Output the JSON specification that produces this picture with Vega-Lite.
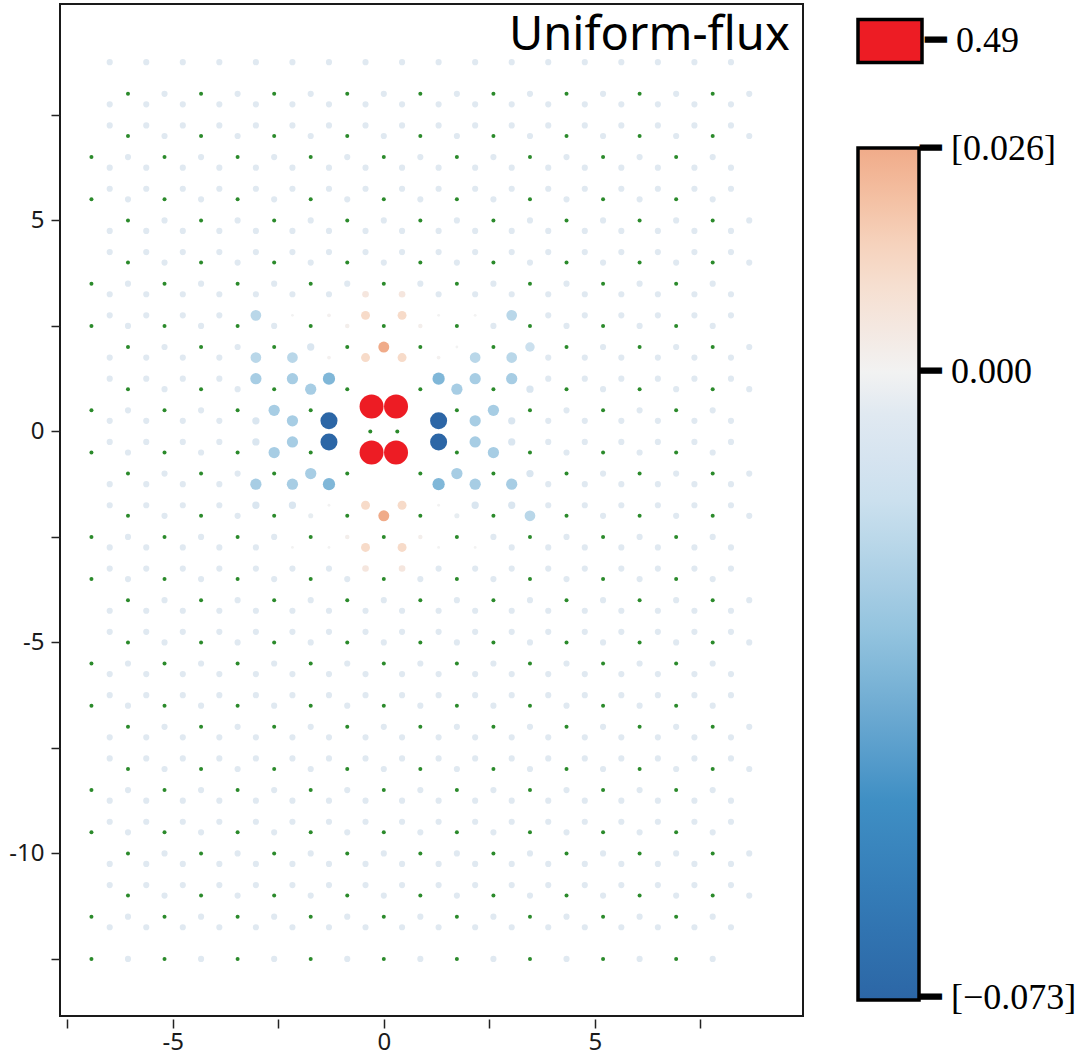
{
"$schema": "https://vega.github.io/schema/vega-lite/v6.json",
"width": 743, "height": 1012,
"autosize": {"type": "none"},
"padding": {"left": 60, "top": 4, "right": 287, "bottom": 44},
"background": "white",
"config": {"view": {"stroke": "#1a1a1a", "strokeWidth": 2},
 "axis": {"grid": false, "domain": false, "tickColor": "#222", "tickWidth": 1.5, "tickSize": 9, "labelFont": "Noto Sans", "labelFontSize": 24, "labelColor": "#1a1a1a", "title": null},
 "legend": {"padding": 0}},
"datasets": {
"s": [
{"x":-6.062,"y":8},{"x":-6.062,"y":7},{"x":-6.062,"y":5},{"x":-6.062,"y":4},{"x":-6.062,"y":2},{"x":-6.062,"y":1},{"x":-6.062,"y":-1},{"x":-6.062,"y":-2},{"x":-6.062,"y":-4},{"x":-6.062,"y":-5},{"x":-6.062,"y":-7},{"x":-6.062,"y":-8},{"x":-6.062,"y":-10},{"x":-6.062,"y":-11},
{"x":-4.33,"y":8},{"x":-4.33,"y":7},{"x":-4.33,"y":5},{"x":-4.33,"y":4},{"x":-4.33,"y":2},{"x":-4.33,"y":1},{"x":-4.33,"y":-1},{"x":-4.33,"y":-2},{"x":-4.33,"y":-4},{"x":-4.33,"y":-5},{"x":-4.33,"y":-7},{"x":-4.33,"y":-8},{"x":-4.33,"y":-10},{"x":-4.33,"y":-11},
{"x":-2.598,"y":8},{"x":-2.598,"y":7},{"x":-2.598,"y":5},{"x":-2.598,"y":4},{"x":-2.598,"y":2},{"x":-2.598,"y":1},{"x":-2.598,"y":-1},{"x":-2.598,"y":-2},{"x":-2.598,"y":-4},{"x":-2.598,"y":-5},{"x":-2.598,"y":-7},{"x":-2.598,"y":-8},{"x":-2.598,"y":-10},{"x":-2.598,"y":-11},
{"x":-0.866,"y":8},{"x":-0.866,"y":7},{"x":-0.866,"y":5},{"x":-0.866,"y":4},{"x":-0.866,"y":2},{"x":-0.866,"y":1},{"x":-0.866,"y":-1},{"x":-0.866,"y":-2},{"x":-0.866,"y":-4},{"x":-0.866,"y":-5},{"x":-0.866,"y":-7},{"x":-0.866,"y":-8},{"x":-0.866,"y":-10},{"x":-0.866,"y":-11},
{"x":0.866,"y":8},{"x":0.866,"y":7},{"x":0.866,"y":5},{"x":0.866,"y":4},{"x":0.866,"y":2},{"x":0.866,"y":1},{"x":0.866,"y":-1},{"x":0.866,"y":-2},{"x":0.866,"y":-4},{"x":0.866,"y":-5},{"x":0.866,"y":-7},{"x":0.866,"y":-8},{"x":0.866,"y":-10},{"x":0.866,"y":-11},
{"x":2.598,"y":8},{"x":2.598,"y":7},{"x":2.598,"y":5},{"x":2.598,"y":4},{"x":2.598,"y":2},{"x":2.598,"y":1},{"x":2.598,"y":-1},{"x":2.598,"y":-2},{"x":2.598,"y":-4},{"x":2.598,"y":-5},{"x":2.598,"y":-7},{"x":2.598,"y":-8},{"x":2.598,"y":-10},{"x":2.598,"y":-11},
{"x":4.33,"y":8},{"x":4.33,"y":7},{"x":4.33,"y":5},{"x":4.33,"y":4},{"x":4.33,"y":2},{"x":4.33,"y":1},{"x":4.33,"y":-1},{"x":4.33,"y":-2},{"x":4.33,"y":-4},{"x":4.33,"y":-5},{"x":4.33,"y":-7},{"x":4.33,"y":-8},{"x":4.33,"y":-10},{"x":4.33,"y":-11},
{"x":6.062,"y":8},{"x":6.062,"y":7},{"x":6.062,"y":5},{"x":6.062,"y":4},{"x":6.062,"y":2},{"x":6.062,"y":1},{"x":6.062,"y":-1},{"x":6.062,"y":-2},{"x":6.062,"y":-4},{"x":6.062,"y":-5},{"x":6.062,"y":-7},{"x":6.062,"y":-8},{"x":6.062,"y":-10},{"x":6.062,"y":-11},
{"x":7.794,"y":8},{"x":7.794,"y":7},{"x":7.794,"y":5},{"x":7.794,"y":4},{"x":7.794,"y":2},{"x":7.794,"y":1},{"x":7.794,"y":-1},{"x":7.794,"y":-2},{"x":7.794,"y":-4},{"x":7.794,"y":-5},{"x":7.794,"y":-7},{"x":7.794,"y":-8},{"x":7.794,"y":-10},{"x":7.794,"y":-11},
{"x":-6.928,"y":6.5},{"x":-6.928,"y":5.5},{"x":-6.928,"y":3.5},{"x":-6.928,"y":2.5},{"x":-6.928,"y":0.5},{"x":-6.928,"y":-0.5},{"x":-6.928,"y":-2.5},{"x":-6.928,"y":-3.5},{"x":-6.928,"y":-5.5},{"x":-6.928,"y":-6.5},{"x":-6.928,"y":-8.5},{"x":-6.928,"y":-9.5},{"x":-6.928,"y":-11.5},{"x":-6.928,"y":-12.5},
{"x":-5.196,"y":6.5},{"x":-5.196,"y":5.5},{"x":-5.196,"y":3.5},{"x":-5.196,"y":2.5},{"x":-5.196,"y":0.5},{"x":-5.196,"y":-0.5},{"x":-5.196,"y":-2.5},{"x":-5.196,"y":-3.5},{"x":-5.196,"y":-5.5},{"x":-5.196,"y":-6.5},{"x":-5.196,"y":-8.5},{"x":-5.196,"y":-9.5},{"x":-5.196,"y":-11.5},{"x":-5.196,"y":-12.5},
{"x":-3.464,"y":6.5},{"x":-3.464,"y":5.5},{"x":-3.464,"y":3.5},{"x":-3.464,"y":2.5},{"x":-3.464,"y":0.5},{"x":-3.464,"y":-0.5},{"x":-3.464,"y":-2.5},{"x":-3.464,"y":-3.5},{"x":-3.464,"y":-5.5},{"x":-3.464,"y":-6.5},{"x":-3.464,"y":-8.5},{"x":-3.464,"y":-9.5},{"x":-3.464,"y":-11.5},{"x":-3.464,"y":-12.5},
{"x":-1.732,"y":6.5},{"x":-1.732,"y":5.5},{"x":-1.732,"y":3.5},{"x":-1.732,"y":2.5},{"x":-1.732,"y":0.5},{"x":-1.732,"y":-0.5},{"x":-1.732,"y":-2.5},{"x":-1.732,"y":-3.5},{"x":-1.732,"y":-5.5},{"x":-1.732,"y":-6.5},{"x":-1.732,"y":-8.5},{"x":-1.732,"y":-9.5},{"x":-1.732,"y":-11.5},{"x":-1.732,"y":-12.5},
{"x":0,"y":6.5},{"x":0,"y":5.5},{"x":0,"y":3.5},{"x":0,"y":2.5},{"x":-0.32,"y":0},{"x":0.32,"y":0},{"x":0,"y":-2.5},{"x":0,"y":-3.5},{"x":0,"y":-5.5},{"x":0,"y":-6.5},{"x":0,"y":-8.5},{"x":0,"y":-9.5},{"x":0,"y":-11.5},{"x":0,"y":-12.5},
{"x":1.732,"y":6.5},{"x":1.732,"y":5.5},{"x":1.732,"y":3.5},{"x":1.732,"y":2.5},{"x":1.732,"y":0.5},{"x":1.732,"y":-0.5},{"x":1.732,"y":-2.5},{"x":1.732,"y":-3.5},{"x":1.732,"y":-5.5},{"x":1.732,"y":-6.5},{"x":1.732,"y":-8.5},{"x":1.732,"y":-9.5},{"x":1.732,"y":-11.5},{"x":1.732,"y":-12.5},
{"x":3.464,"y":6.5},{"x":3.464,"y":5.5},{"x":3.464,"y":3.5},{"x":3.464,"y":2.5},{"x":3.464,"y":0.5},{"x":3.464,"y":-0.5},{"x":3.464,"y":-2.5},{"x":3.464,"y":-3.5},{"x":3.464,"y":-5.5},{"x":3.464,"y":-6.5},{"x":3.464,"y":-8.5},{"x":3.464,"y":-9.5},{"x":3.464,"y":-11.5},{"x":3.464,"y":-12.5},
{"x":5.196,"y":6.5},{"x":5.196,"y":5.5},{"x":5.196,"y":3.5},{"x":5.196,"y":2.5},{"x":5.196,"y":0.5},{"x":5.196,"y":-0.5},{"x":5.196,"y":-2.5},{"x":5.196,"y":-3.5},{"x":5.196,"y":-5.5},{"x":5.196,"y":-6.5},{"x":5.196,"y":-8.5},{"x":5.196,"y":-9.5},{"x":5.196,"y":-11.5},{"x":5.196,"y":-12.5},
{"x":6.928,"y":6.5},{"x":6.928,"y":5.5},{"x":6.928,"y":3.5},{"x":6.928,"y":2.5},{"x":6.928,"y":0.5},{"x":6.928,"y":-0.5},{"x":6.928,"y":-2.5},{"x":6.928,"y":-3.5},{"x":6.928,"y":-5.5},{"x":6.928,"y":-6.5},{"x":6.928,"y":-8.5},{"x":6.928,"y":-9.5},{"x":6.928,"y":-11.5},{"x":6.928,"y":-12.5}
],
"r": [{"x":-0.29,"y":0.59,"v":0.49},{"x":0.29,"y":0.59,"v":0.49},{"x":-0.29,"y":-0.5,"v":0.49},{"x":0.29,"y":-0.5,"v":0.49}],
"b": [
{"x":-6.495,"y":8.75,"v":-0.005},{"x":-5.629,"y":8.75,"v":-0.005},{"x":-4.763,"y":8.75,"v":-0.005},{"x":-3.897,"y":8.75,"v":-0.005},{"x":-3.031,"y":8.75,"v":-0.005},{"x":-2.165,"y":8.75,"v":-0.005},{"x":-1.299,"y":8.75,"v":-0.005},{"x":-0.433,"y":8.75,"v":-0.005},{"x":0.433,"y":8.75,"v":-0.005},{"x":1.299,"y":8.75,"v":-0.005},{"x":2.165,"y":8.75,"v":-0.005},{"x":3.031,"y":8.75,"v":-0.005},{"x":3.897,"y":8.75,"v":-0.005},{"x":4.763,"y":8.75,"v":-0.005},{"x":5.629,"y":8.75,"v":-0.005},{"x":6.495,"y":8.75,"v":-0.005},{"x":7.361,"y":8.75,"v":-0.005},{"x":8.227,"y":8.75,"v":-0.005},
{"x":-5.196,"y":8,"v":-0.005},{"x":-3.464,"y":8,"v":-0.005},{"x":-1.732,"y":8,"v":-0.005},{"x":0,"y":8,"v":-0.005},{"x":1.732,"y":8,"v":-0.005},{"x":3.464,"y":8,"v":-0.005},{"x":5.196,"y":8,"v":-0.005},{"x":6.928,"y":8,"v":-0.005},{"x":8.66,"y":8,"v":-0.005},
{"x":-6.495,"y":7.75,"v":-0.005},{"x":-5.629,"y":7.75,"v":-0.005},{"x":-4.763,"y":7.75,"v":-0.005},{"x":-3.897,"y":7.75,"v":-0.005},{"x":-3.031,"y":7.75,"v":-0.005},{"x":-2.165,"y":7.75,"v":-0.005},{"x":-1.299,"y":7.75,"v":-0.005},{"x":-0.433,"y":7.75,"v":-0.005},{"x":0.433,"y":7.75,"v":-0.005},{"x":1.299,"y":7.75,"v":-0.005},{"x":2.165,"y":7.75,"v":-0.005},{"x":3.031,"y":7.75,"v":-0.005},{"x":3.897,"y":7.75,"v":-0.005},{"x":4.763,"y":7.75,"v":-0.005},{"x":5.629,"y":7.75,"v":-0.005},{"x":6.495,"y":7.75,"v":-0.005},{"x":7.361,"y":7.75,"v":-0.005},{"x":8.227,"y":7.75,"v":-0.005},
{"x":-6.495,"y":7.25,"v":-0.005},{"x":-5.629,"y":7.25,"v":-0.005},{"x":-4.763,"y":7.25,"v":-0.005},{"x":-3.897,"y":7.25,"v":-0.005},{"x":-3.031,"y":7.25,"v":-0.005},{"x":-2.165,"y":7.25,"v":-0.005},{"x":-1.299,"y":7.25,"v":-0.005},{"x":-0.433,"y":7.25,"v":-0.005},{"x":0.433,"y":7.25,"v":-0.005},{"x":1.299,"y":7.25,"v":-0.005},{"x":2.165,"y":7.25,"v":-0.005},{"x":3.031,"y":7.25,"v":-0.005},{"x":3.897,"y":7.25,"v":-0.005},{"x":4.763,"y":7.25,"v":-0.005},{"x":5.629,"y":7.25,"v":-0.005},{"x":6.495,"y":7.25,"v":-0.005},{"x":7.361,"y":7.25,"v":-0.005},{"x":8.227,"y":7.25,"v":-0.005},
{"x":-5.196,"y":7,"v":-0.005},{"x":-3.464,"y":7,"v":-0.005},{"x":-1.732,"y":7,"v":-0.005},{"x":0,"y":7,"v":-0.005},{"x":1.732,"y":7,"v":-0.005},{"x":3.464,"y":7,"v":-0.005},{"x":5.196,"y":7,"v":-0.005},{"x":6.928,"y":7,"v":-0.005},{"x":8.66,"y":7,"v":-0.005},
{"x":-6.062,"y":6.5,"v":-0.005},{"x":-4.33,"y":6.5,"v":-0.005},{"x":-2.598,"y":6.5,"v":-0.005},{"x":-0.866,"y":6.5,"v":-0.005},{"x":0.866,"y":6.5,"v":-0.005},{"x":2.598,"y":6.5,"v":-0.005},{"x":4.33,"y":6.5,"v":-0.005},{"x":6.062,"y":6.5,"v":-0.005},{"x":7.794,"y":6.5,"v":-0.005},
{"x":-6.495,"y":6.25,"v":-0.005},{"x":-5.629,"y":6.25,"v":-0.005},{"x":-4.763,"y":6.25,"v":-0.005},{"x":-3.897,"y":6.25,"v":-0.005},{"x":-3.031,"y":6.25,"v":-0.005},{"x":-2.165,"y":6.25,"v":-0.005},{"x":-1.299,"y":6.25,"v":-0.005},{"x":-0.433,"y":6.25,"v":-0.005},{"x":0.433,"y":6.25,"v":-0.005},{"x":1.299,"y":6.25,"v":-0.005},{"x":2.165,"y":6.25,"v":-0.005},{"x":3.031,"y":6.25,"v":-0.005},{"x":3.897,"y":6.25,"v":-0.005},{"x":4.763,"y":6.25,"v":-0.005},{"x":5.629,"y":6.25,"v":-0.005},{"x":6.495,"y":6.25,"v":-0.005},{"x":7.361,"y":6.25,"v":-0.005},{"x":8.227,"y":6.25,"v":-0.005},
{"x":-6.495,"y":5.75,"v":-0.005},{"x":-5.629,"y":5.75,"v":-0.005},{"x":-4.763,"y":5.75,"v":-0.005},{"x":-3.897,"y":5.75,"v":-0.005},{"x":-3.031,"y":5.75,"v":-0.005},{"x":-2.165,"y":5.75,"v":-0.005},{"x":-1.299,"y":5.75,"v":-0.005},{"x":-0.433,"y":5.75,"v":-0.005},{"x":0.433,"y":5.75,"v":-0.005},{"x":1.299,"y":5.75,"v":-0.005},{"x":2.165,"y":5.75,"v":-0.005},{"x":3.031,"y":5.75,"v":-0.005},{"x":3.897,"y":5.75,"v":-0.005},{"x":4.763,"y":5.75,"v":-0.005},{"x":5.629,"y":5.75,"v":-0.005},{"x":6.495,"y":5.75,"v":-0.005},{"x":7.361,"y":5.75,"v":-0.005},{"x":8.227,"y":5.75,"v":-0.005},
{"x":-6.062,"y":5.5,"v":-0.005},{"x":-4.33,"y":5.5,"v":-0.005},{"x":-2.598,"y":5.5,"v":-0.005},{"x":-0.866,"y":5.5,"v":-0.005},{"x":0.866,"y":5.5,"v":-0.005},{"x":2.598,"y":5.5,"v":-0.005},{"x":4.33,"y":5.5,"v":-0.005},{"x":6.062,"y":5.5,"v":-0.005},{"x":7.794,"y":5.5,"v":-0.005},
{"x":-5.196,"y":5,"v":-0.005},{"x":-3.464,"y":5,"v":-0.005},{"x":-1.732,"y":5,"v":-0.005},{"x":0,"y":5,"v":-0.005},{"x":1.732,"y":5,"v":-0.005},{"x":3.464,"y":5,"v":-0.005},{"x":5.196,"y":5,"v":-0.005},{"x":6.928,"y":5,"v":-0.005},{"x":8.66,"y":5,"v":-0.005},
{"x":-6.495,"y":4.75,"v":-0.005},{"x":-5.629,"y":4.75,"v":-0.005},{"x":-4.763,"y":4.75,"v":-0.005},{"x":-3.897,"y":4.75,"v":-0.005},{"x":-3.031,"y":4.75,"v":-0.005},{"x":-2.165,"y":4.75,"v":-0.005},{"x":-1.299,"y":4.75,"v":-0.005},{"x":-0.433,"y":4.75,"v":-0.005},{"x":0.433,"y":4.75,"v":-0.005},{"x":1.299,"y":4.75,"v":-0.005},{"x":2.165,"y":4.75,"v":-0.005},{"x":3.031,"y":4.75,"v":-0.005},{"x":3.897,"y":4.75,"v":-0.005},{"x":4.763,"y":4.75,"v":-0.005},{"x":5.629,"y":4.75,"v":-0.005},{"x":6.495,"y":4.75,"v":-0.005},{"x":7.361,"y":4.75,"v":-0.005},{"x":8.227,"y":4.75,"v":-0.005},
{"x":-6.495,"y":4.25,"v":-0.005},{"x":-5.629,"y":4.25,"v":-0.005},{"x":-4.763,"y":4.25,"v":-0.005},{"x":-3.897,"y":4.25,"v":-0.005},{"x":-3.031,"y":4.25,"v":-0.005},{"x":-2.165,"y":4.25,"v":-0.005},{"x":-1.299,"y":4.25,"v":-0.005},{"x":-0.433,"y":4.25,"v":-0.005},{"x":0.433,"y":4.25,"v":-0.005},{"x":1.299,"y":4.25,"v":-0.005},{"x":2.165,"y":4.25,"v":-0.005},{"x":3.031,"y":4.25,"v":-0.005},{"x":3.897,"y":4.25,"v":-0.005},{"x":4.763,"y":4.25,"v":-0.005},{"x":5.629,"y":4.25,"v":-0.005},{"x":6.495,"y":4.25,"v":-0.005},{"x":7.361,"y":4.25,"v":-0.005},{"x":8.227,"y":4.25,"v":-0.005},
{"x":-5.196,"y":4,"v":-0.005},{"x":-3.464,"y":4,"v":-0.005},{"x":-1.732,"y":4,"v":-0.005},{"x":0,"y":4,"v":-0.005},{"x":1.732,"y":4,"v":-0.005},{"x":3.464,"y":4,"v":-0.005},{"x":5.196,"y":4,"v":-0.005},{"x":6.928,"y":4,"v":-0.005},{"x":8.66,"y":4,"v":-0.005},
{"x":-6.062,"y":3.5,"v":-0.005},{"x":-4.33,"y":3.5,"v":-0.005},{"x":-2.598,"y":3.5,"v":-0.005},{"x":-0.866,"y":3.5,"v":-0.005},{"x":0.866,"y":3.5,"v":-0.005},{"x":2.598,"y":3.5,"v":-0.005},{"x":4.33,"y":3.5,"v":-0.005},{"x":6.062,"y":3.5,"v":-0.005},{"x":7.794,"y":3.5,"v":-0.005},
{"x":-6.495,"y":3.25,"v":-0.005},{"x":-5.629,"y":3.25,"v":-0.005},{"x":-4.763,"y":3.25,"v":-0.005},{"x":-3.897,"y":3.25,"v":-0.005},{"x":-3.031,"y":3.25,"v":-0.005},{"x":-2.165,"y":3.25,"v":-0.005},{"x":-1.299,"y":3.25,"v":-0.005},{"x":-0.433,"y":3.25,"v":0.006},{"x":0.433,"y":3.25,"v":0.006},{"x":1.299,"y":3.25,"v":-0.005},{"x":2.165,"y":3.25,"v":-0.005},{"x":3.031,"y":3.25,"v":-0.005},{"x":3.897,"y":3.25,"v":-0.005},{"x":4.763,"y":3.25,"v":-0.005},{"x":5.629,"y":3.25,"v":-0.005},{"x":6.495,"y":3.25,"v":-0.005},{"x":7.361,"y":3.25,"v":-0.005},{"x":8.227,"y":3.25,"v":-0.005},
{"x":-6.495,"y":2.75,"v":-0.005},{"x":-5.629,"y":2.75,"v":-0.005},{"x":-4.763,"y":2.75,"v":-0.005},{"x":-3.897,"y":2.75,"v":-0.005},{"x":-3.031,"y":2.75,"v":-0.02},{"x":-2.165,"y":2.75,"v":0},{"x":-1.299,"y":2.75,"v":0.001},{"x":-0.433,"y":2.75,"v":0.012},{"x":0.433,"y":2.75,"v":0.012},{"x":1.299,"y":2.75,"v":0},{"x":2.165,"y":2.75,"v":0},{"x":3.031,"y":2.75,"v":-0.02},{"x":3.897,"y":2.75,"v":-0.005},{"x":4.763,"y":2.75,"v":-0.005},{"x":5.629,"y":2.75,"v":-0.005},{"x":6.495,"y":2.75,"v":-0.005},{"x":7.361,"y":2.75,"v":-0.005},{"x":8.227,"y":2.75,"v":-0.005},
{"x":-6.062,"y":2.5,"v":-0.005},{"x":-4.33,"y":2.5,"v":-0.005},{"x":-2.598,"y":2.5,"v":-0.005},{"x":-0.866,"y":2.5,"v":0.002},{"x":0.866,"y":2.5,"v":0.002},{"x":2.598,"y":2.5,"v":-0.005},{"x":4.33,"y":2.5,"v":-0.005},{"x":6.062,"y":2.5,"v":-0.005},{"x":7.794,"y":2.5,"v":-0.005},
{"x":-5.196,"y":2,"v":-0.005},{"x":-3.464,"y":2,"v":-0.005},{"x":-1.732,"y":2,"v":-0.008},{"x":0,"y":2,"v":0.026},{"x":1.732,"y":2,"v":0},{"x":3.464,"y":2,"v":-0.015},{"x":5.196,"y":2,"v":-0.005},{"x":6.928,"y":2,"v":-0.005},{"x":8.66,"y":2,"v":-0.005},
{"x":-6.495,"y":1.75,"v":-0.005},{"x":-5.629,"y":1.75,"v":-0.005},{"x":-4.763,"y":1.75,"v":-0.005},{"x":-3.897,"y":1.75,"v":-0.005},{"x":-3.031,"y":1.75,"v":-0.02},{"x":-2.165,"y":1.75,"v":-0.02},{"x":-1.299,"y":1.75,"v":0.001},{"x":-0.433,"y":1.75,"v":0.012},{"x":0.433,"y":1.75,"v":0.012},{"x":1.299,"y":1.75,"v":0.001},{"x":2.165,"y":1.75,"v":-0.02},{"x":3.031,"y":1.75,"v":-0.02},{"x":3.897,"y":1.75,"v":-0.005},{"x":4.763,"y":1.75,"v":-0.005},{"x":5.629,"y":1.75,"v":-0.005},{"x":6.495,"y":1.75,"v":-0.005},{"x":7.361,"y":1.75,"v":-0.005},{"x":8.227,"y":1.75,"v":-0.005},
{"x":-6.495,"y":1.25,"v":-0.005},{"x":-5.629,"y":1.25,"v":-0.005},{"x":-4.763,"y":1.25,"v":-0.005},{"x":-3.897,"y":1.25,"v":-0.005},{"x":-3.031,"y":1.25,"v":-0.025},{"x":-2.165,"y":1.25,"v":-0.025},{"x":-1.299,"y":1.25,"v":-0.035},{"x":1.299,"y":1.25,"v":-0.035},{"x":2.165,"y":1.25,"v":-0.025},{"x":3.031,"y":1.25,"v":-0.025},{"x":3.897,"y":1.25,"v":-0.005},{"x":4.763,"y":1.25,"v":-0.005},{"x":5.629,"y":1.25,"v":-0.005},{"x":6.495,"y":1.25,"v":-0.005},{"x":7.361,"y":1.25,"v":-0.005},{"x":8.227,"y":1.25,"v":-0.005},
{"x":-5.196,"y":1,"v":-0.005},{"x":-3.464,"y":1,"v":-0.005},{"x":-1.732,"y":1,"v":-0.025},{"x":1.732,"y":1,"v":-0.025},{"x":3.464,"y":1,"v":-0.008},{"x":5.196,"y":1,"v":-0.005},{"x":6.928,"y":1,"v":-0.005},{"x":8.66,"y":1,"v":-0.005},
{"x":-6.062,"y":0.5,"v":-0.005},{"x":-4.33,"y":0.5,"v":-0.005},{"x":-2.598,"y":0.5,"v":-0.025},{"x":2.598,"y":0.5,"v":-0.025},{"x":4.33,"y":0.5,"v":-0.005},{"x":6.062,"y":0.5,"v":-0.005},{"x":7.794,"y":0.5,"v":-0.005},
{"x":-6.495,"y":0.25,"v":-0.005},{"x":-5.629,"y":0.25,"v":-0.005},{"x":-4.763,"y":0.25,"v":-0.005},{"x":-3.897,"y":0.25,"v":-0.005},{"x":-3.031,"y":0.25,"v":-0.008},{"x":-2.165,"y":0.25,"v":-0.025},{"x":-1.299,"y":0.25,"v":-0.073},{"x":1.299,"y":0.25,"v":-0.073},{"x":2.165,"y":0.25,"v":-0.025},{"x":3.031,"y":0.25,"v":-0.008},{"x":3.897,"y":0.25,"v":-0.005},{"x":4.763,"y":0.25,"v":-0.005},{"x":5.629,"y":0.25,"v":-0.005},{"x":6.495,"y":0.25,"v":-0.005},{"x":7.361,"y":0.25,"v":-0.005},{"x":8.227,"y":0.25,"v":-0.005},
{"x":-6.495,"y":-0.25,"v":-0.005},{"x":-5.629,"y":-0.25,"v":-0.005},{"x":-4.763,"y":-0.25,"v":-0.005},{"x":-3.897,"y":-0.25,"v":-0.005},{"x":-3.031,"y":-0.25,"v":-0.008},{"x":-2.165,"y":-0.25,"v":-0.025},{"x":-1.299,"y":-0.25,"v":-0.073},{"x":1.299,"y":-0.25,"v":-0.073},{"x":2.165,"y":-0.25,"v":-0.025},{"x":3.031,"y":-0.25,"v":-0.008},{"x":3.897,"y":-0.25,"v":-0.005},{"x":4.763,"y":-0.25,"v":-0.005},{"x":5.629,"y":-0.25,"v":-0.005},{"x":6.495,"y":-0.25,"v":-0.005},{"x":7.361,"y":-0.25,"v":-0.005},{"x":8.227,"y":-0.25,"v":-0.005},
{"x":-6.062,"y":-0.5,"v":-0.005},{"x":-4.33,"y":-0.5,"v":-0.005},{"x":-2.598,"y":-0.5,"v":-0.025},{"x":2.598,"y":-0.5,"v":-0.025},{"x":4.33,"y":-0.5,"v":-0.005},{"x":6.062,"y":-0.5,"v":-0.005},{"x":7.794,"y":-0.5,"v":-0.005},
{"x":-5.196,"y":-1,"v":-0.005},{"x":-3.464,"y":-1,"v":-0.005},{"x":-1.732,"y":-1,"v":-0.025},{"x":1.732,"y":-1,"v":-0.025},{"x":3.464,"y":-1,"v":-0.008},{"x":5.196,"y":-1,"v":-0.005},{"x":6.928,"y":-1,"v":-0.005},{"x":8.66,"y":-1,"v":-0.005},
{"x":-6.495,"y":-1.25,"v":-0.005},{"x":-5.629,"y":-1.25,"v":-0.005},{"x":-4.763,"y":-1.25,"v":-0.005},{"x":-3.897,"y":-1.25,"v":-0.005},{"x":-3.031,"y":-1.25,"v":-0.025},{"x":-2.165,"y":-1.25,"v":-0.025},{"x":-1.299,"y":-1.25,"v":-0.035},{"x":1.299,"y":-1.25,"v":-0.035},{"x":2.165,"y":-1.25,"v":-0.025},{"x":3.031,"y":-1.25,"v":-0.025},{"x":3.897,"y":-1.25,"v":-0.005},{"x":4.763,"y":-1.25,"v":-0.005},{"x":5.629,"y":-1.25,"v":-0.005},{"x":6.495,"y":-1.25,"v":-0.005},{"x":7.361,"y":-1.25,"v":-0.005},{"x":8.227,"y":-1.25,"v":-0.005},
{"x":-6.495,"y":-1.75,"v":-0.005},{"x":-5.629,"y":-1.75,"v":-0.005},{"x":-4.763,"y":-1.75,"v":-0.005},{"x":-3.897,"y":-1.75,"v":-0.005},{"x":-3.031,"y":-1.75,"v":-0.008},{"x":-2.165,"y":-1.75,"v":-0.008},{"x":-1.299,"y":-1.75,"v":0},{"x":-0.433,"y":-1.75,"v":0.012},{"x":0.433,"y":-1.75,"v":0.012},{"x":1.299,"y":-1.75,"v":0},{"x":2.165,"y":-1.75,"v":-0.008},{"x":3.031,"y":-1.75,"v":-0.008},{"x":3.897,"y":-1.75,"v":-0.005},{"x":4.763,"y":-1.75,"v":-0.005},{"x":5.629,"y":-1.75,"v":-0.005},{"x":6.495,"y":-1.75,"v":-0.005},{"x":7.361,"y":-1.75,"v":-0.005},{"x":8.227,"y":-1.75,"v":-0.005},
{"x":-5.196,"y":-2,"v":-0.005},{"x":-3.464,"y":-2,"v":-0.005},{"x":-1.732,"y":-2,"v":-0.003},{"x":0,"y":-2,"v":0.026},{"x":1.732,"y":-2,"v":-0.003},{"x":3.464,"y":-2,"v":-0.02},{"x":5.196,"y":-2,"v":-0.005},{"x":6.928,"y":-2,"v":-0.005},{"x":8.66,"y":-2,"v":-0.005},
{"x":-6.062,"y":-2.5,"v":-0.005},{"x":-4.33,"y":-2.5,"v":-0.005},{"x":-2.598,"y":-2.5,"v":-0.005},{"x":-0.866,"y":-2.5,"v":0.002},{"x":0.866,"y":-2.5,"v":0.002},{"x":2.598,"y":-2.5,"v":-0.005},{"x":4.33,"y":-2.5,"v":-0.005},{"x":6.062,"y":-2.5,"v":-0.005},{"x":7.794,"y":-2.5,"v":-0.005},
{"x":-6.495,"y":-2.75,"v":-0.005},{"x":-5.629,"y":-2.75,"v":-0.005},{"x":-4.763,"y":-2.75,"v":-0.005},{"x":-3.897,"y":-2.75,"v":-0.005},{"x":-3.031,"y":-2.75,"v":-0.005},{"x":-2.165,"y":-2.75,"v":0},{"x":-1.299,"y":-2.75,"v":0},{"x":-0.433,"y":-2.75,"v":0.012},{"x":0.433,"y":-2.75,"v":0.012},{"x":1.299,"y":-2.75,"v":0},{"x":2.165,"y":-2.75,"v":0},{"x":3.031,"y":-2.75,"v":-0.005},{"x":3.897,"y":-2.75,"v":-0.005},{"x":4.763,"y":-2.75,"v":-0.005},{"x":5.629,"y":-2.75,"v":-0.005},{"x":6.495,"y":-2.75,"v":-0.005},{"x":7.361,"y":-2.75,"v":-0.005},{"x":8.227,"y":-2.75,"v":-0.005},
{"x":-6.495,"y":-3.25,"v":-0.005},{"x":-5.629,"y":-3.25,"v":-0.005},{"x":-4.763,"y":-3.25,"v":-0.005},{"x":-3.897,"y":-3.25,"v":-0.005},{"x":-3.031,"y":-3.25,"v":-0.005},{"x":-2.165,"y":-3.25,"v":-0.005},{"x":-1.299,"y":-3.25,"v":-0.005},{"x":-0.433,"y":-3.25,"v":0.006},{"x":0.433,"y":-3.25,"v":0.006},{"x":1.299,"y":-3.25,"v":-0.005},{"x":2.165,"y":-3.25,"v":-0.005},{"x":3.031,"y":-3.25,"v":-0.005},{"x":3.897,"y":-3.25,"v":-0.005},{"x":4.763,"y":-3.25,"v":-0.005},{"x":5.629,"y":-3.25,"v":-0.005},{"x":6.495,"y":-3.25,"v":-0.005},{"x":7.361,"y":-3.25,"v":-0.005},{"x":8.227,"y":-3.25,"v":-0.005},
{"x":-6.062,"y":-3.5,"v":-0.005},{"x":-4.33,"y":-3.5,"v":-0.005},{"x":-2.598,"y":-3.5,"v":-0.005},{"x":-0.866,"y":-3.5,"v":-0.005},{"x":0.866,"y":-3.5,"v":-0.005},{"x":2.598,"y":-3.5,"v":-0.005},{"x":4.33,"y":-3.5,"v":-0.005},{"x":6.062,"y":-3.5,"v":-0.005},{"x":7.794,"y":-3.5,"v":-0.005},
{"x":-5.196,"y":-4,"v":-0.005},{"x":-3.464,"y":-4,"v":-0.005},{"x":-1.732,"y":-4,"v":-0.005},{"x":0,"y":-4,"v":-0.005},{"x":1.732,"y":-4,"v":-0.005},{"x":3.464,"y":-4,"v":-0.005},{"x":5.196,"y":-4,"v":-0.005},{"x":6.928,"y":-4,"v":-0.005},{"x":8.66,"y":-4,"v":-0.005},
{"x":-6.495,"y":-4.25,"v":-0.005},{"x":-5.629,"y":-4.25,"v":-0.005},{"x":-4.763,"y":-4.25,"v":-0.005},{"x":-3.897,"y":-4.25,"v":-0.005},{"x":-3.031,"y":-4.25,"v":-0.005},{"x":-2.165,"y":-4.25,"v":-0.005},{"x":-1.299,"y":-4.25,"v":-0.005},{"x":-0.433,"y":-4.25,"v":-0.005},{"x":0.433,"y":-4.25,"v":-0.005},{"x":1.299,"y":-4.25,"v":-0.005},{"x":2.165,"y":-4.25,"v":-0.005},{"x":3.031,"y":-4.25,"v":-0.005},{"x":3.897,"y":-4.25,"v":-0.005},{"x":4.763,"y":-4.25,"v":-0.005},{"x":5.629,"y":-4.25,"v":-0.005},{"x":6.495,"y":-4.25,"v":-0.005},{"x":7.361,"y":-4.25,"v":-0.005},{"x":8.227,"y":-4.25,"v":-0.005},
{"x":-6.495,"y":-4.75,"v":-0.005},{"x":-5.629,"y":-4.75,"v":-0.005},{"x":-4.763,"y":-4.75,"v":-0.005},{"x":-3.897,"y":-4.75,"v":-0.005},{"x":-3.031,"y":-4.75,"v":-0.005},{"x":-2.165,"y":-4.75,"v":-0.005},{"x":-1.299,"y":-4.75,"v":-0.005},{"x":-0.433,"y":-4.75,"v":-0.005},{"x":0.433,"y":-4.75,"v":-0.005},{"x":1.299,"y":-4.75,"v":-0.005},{"x":2.165,"y":-4.75,"v":-0.005},{"x":3.031,"y":-4.75,"v":-0.005},{"x":3.897,"y":-4.75,"v":-0.005},{"x":4.763,"y":-4.75,"v":-0.005},{"x":5.629,"y":-4.75,"v":-0.005},{"x":6.495,"y":-4.75,"v":-0.005},{"x":7.361,"y":-4.75,"v":-0.005},{"x":8.227,"y":-4.75,"v":-0.005},
{"x":-5.196,"y":-5,"v":-0.005},{"x":-3.464,"y":-5,"v":-0.005},{"x":-1.732,"y":-5,"v":-0.005},{"x":0,"y":-5,"v":-0.005},{"x":1.732,"y":-5,"v":-0.005},{"x":3.464,"y":-5,"v":-0.005},{"x":5.196,"y":-5,"v":-0.005},{"x":6.928,"y":-5,"v":-0.005},{"x":8.66,"y":-5,"v":-0.005},
{"x":-6.062,"y":-5.5,"v":-0.005},{"x":-4.33,"y":-5.5,"v":-0.005},{"x":-2.598,"y":-5.5,"v":-0.005},{"x":-0.866,"y":-5.5,"v":-0.005},{"x":0.866,"y":-5.5,"v":-0.005},{"x":2.598,"y":-5.5,"v":-0.005},{"x":4.33,"y":-5.5,"v":-0.005},{"x":6.062,"y":-5.5,"v":-0.005},{"x":7.794,"y":-5.5,"v":-0.005},
{"x":-6.495,"y":-5.75,"v":-0.005},{"x":-5.629,"y":-5.75,"v":-0.005},{"x":-4.763,"y":-5.75,"v":-0.005},{"x":-3.897,"y":-5.75,"v":-0.005},{"x":-3.031,"y":-5.75,"v":-0.005},{"x":-2.165,"y":-5.75,"v":-0.005},{"x":-1.299,"y":-5.75,"v":-0.005},{"x":-0.433,"y":-5.75,"v":-0.005},{"x":0.433,"y":-5.75,"v":-0.005},{"x":1.299,"y":-5.75,"v":-0.005},{"x":2.165,"y":-5.75,"v":-0.005},{"x":3.031,"y":-5.75,"v":-0.005},{"x":3.897,"y":-5.75,"v":-0.005},{"x":4.763,"y":-5.75,"v":-0.005},{"x":5.629,"y":-5.75,"v":-0.005},{"x":6.495,"y":-5.75,"v":-0.005},{"x":7.361,"y":-5.75,"v":-0.005},{"x":8.227,"y":-5.75,"v":-0.005},
{"x":-6.495,"y":-6.25,"v":-0.005},{"x":-5.629,"y":-6.25,"v":-0.005},{"x":-4.763,"y":-6.25,"v":-0.005},{"x":-3.897,"y":-6.25,"v":-0.005},{"x":-3.031,"y":-6.25,"v":-0.005},{"x":-2.165,"y":-6.25,"v":-0.005},{"x":-1.299,"y":-6.25,"v":-0.005},{"x":-0.433,"y":-6.25,"v":-0.005},{"x":0.433,"y":-6.25,"v":-0.005},{"x":1.299,"y":-6.25,"v":-0.005},{"x":2.165,"y":-6.25,"v":-0.005},{"x":3.031,"y":-6.25,"v":-0.005},{"x":3.897,"y":-6.25,"v":-0.005},{"x":4.763,"y":-6.25,"v":-0.005},{"x":5.629,"y":-6.25,"v":-0.005},{"x":6.495,"y":-6.25,"v":-0.005},{"x":7.361,"y":-6.25,"v":-0.005},{"x":8.227,"y":-6.25,"v":-0.005},
{"x":-6.062,"y":-6.5,"v":-0.005},{"x":-4.33,"y":-6.5,"v":-0.005},{"x":-2.598,"y":-6.5,"v":-0.005},{"x":-0.866,"y":-6.5,"v":-0.005},{"x":0.866,"y":-6.5,"v":-0.005},{"x":2.598,"y":-6.5,"v":-0.005},{"x":4.33,"y":-6.5,"v":-0.005},{"x":6.062,"y":-6.5,"v":-0.005},{"x":7.794,"y":-6.5,"v":-0.005},
{"x":-5.196,"y":-7,"v":-0.005},{"x":-3.464,"y":-7,"v":-0.005},{"x":-1.732,"y":-7,"v":-0.005},{"x":0,"y":-7,"v":-0.005},{"x":1.732,"y":-7,"v":-0.005},{"x":3.464,"y":-7,"v":-0.005},{"x":5.196,"y":-7,"v":-0.005},{"x":6.928,"y":-7,"v":-0.005},{"x":8.66,"y":-7,"v":-0.005},
{"x":-6.495,"y":-7.25,"v":-0.005},{"x":-5.629,"y":-7.25,"v":-0.005},{"x":-4.763,"y":-7.25,"v":-0.005},{"x":-3.897,"y":-7.25,"v":-0.005},{"x":-3.031,"y":-7.25,"v":-0.005},{"x":-2.165,"y":-7.25,"v":-0.005},{"x":-1.299,"y":-7.25,"v":-0.005},{"x":-0.433,"y":-7.25,"v":-0.005},{"x":0.433,"y":-7.25,"v":-0.005},{"x":1.299,"y":-7.25,"v":-0.005},{"x":2.165,"y":-7.25,"v":-0.005},{"x":3.031,"y":-7.25,"v":-0.005},{"x":3.897,"y":-7.25,"v":-0.005},{"x":4.763,"y":-7.25,"v":-0.005},{"x":5.629,"y":-7.25,"v":-0.005},{"x":6.495,"y":-7.25,"v":-0.005},{"x":7.361,"y":-7.25,"v":-0.005},{"x":8.227,"y":-7.25,"v":-0.005},
{"x":-6.495,"y":-7.75,"v":-0.005},{"x":-5.629,"y":-7.75,"v":-0.005},{"x":-4.763,"y":-7.75,"v":-0.005},{"x":-3.897,"y":-7.75,"v":-0.005},{"x":-3.031,"y":-7.75,"v":-0.005},{"x":-2.165,"y":-7.75,"v":-0.005},{"x":-1.299,"y":-7.75,"v":-0.005},{"x":-0.433,"y":-7.75,"v":-0.005},{"x":0.433,"y":-7.75,"v":-0.005},{"x":1.299,"y":-7.75,"v":-0.005},{"x":2.165,"y":-7.75,"v":-0.005},{"x":3.031,"y":-7.75,"v":-0.005},{"x":3.897,"y":-7.75,"v":-0.005},{"x":4.763,"y":-7.75,"v":-0.005},{"x":5.629,"y":-7.75,"v":-0.005},{"x":6.495,"y":-7.75,"v":-0.005},{"x":7.361,"y":-7.75,"v":-0.005},{"x":8.227,"y":-7.75,"v":-0.005},
{"x":-5.196,"y":-8,"v":-0.005},{"x":-3.464,"y":-8,"v":-0.005},{"x":-1.732,"y":-8,"v":-0.005},{"x":0,"y":-8,"v":-0.005},{"x":1.732,"y":-8,"v":-0.005},{"x":3.464,"y":-8,"v":-0.005},{"x":5.196,"y":-8,"v":-0.005},{"x":6.928,"y":-8,"v":-0.005},{"x":8.66,"y":-8,"v":-0.005},
{"x":-6.062,"y":-8.5,"v":-0.005},{"x":-4.33,"y":-8.5,"v":-0.005},{"x":-2.598,"y":-8.5,"v":-0.005},{"x":-0.866,"y":-8.5,"v":-0.005},{"x":0.866,"y":-8.5,"v":-0.005},{"x":2.598,"y":-8.5,"v":-0.005},{"x":4.33,"y":-8.5,"v":-0.005},{"x":6.062,"y":-8.5,"v":-0.005},{"x":7.794,"y":-8.5,"v":-0.005},
{"x":-6.495,"y":-8.75,"v":-0.005},{"x":-5.629,"y":-8.75,"v":-0.005},{"x":-4.763,"y":-8.75,"v":-0.005},{"x":-3.897,"y":-8.75,"v":-0.005},{"x":-3.031,"y":-8.75,"v":-0.005},{"x":-2.165,"y":-8.75,"v":-0.005},{"x":-1.299,"y":-8.75,"v":-0.005},{"x":-0.433,"y":-8.75,"v":-0.005},{"x":0.433,"y":-8.75,"v":-0.005},{"x":1.299,"y":-8.75,"v":-0.005},{"x":2.165,"y":-8.75,"v":-0.005},{"x":3.031,"y":-8.75,"v":-0.005},{"x":3.897,"y":-8.75,"v":-0.005},{"x":4.763,"y":-8.75,"v":-0.005},{"x":5.629,"y":-8.75,"v":-0.005},{"x":6.495,"y":-8.75,"v":-0.005},{"x":7.361,"y":-8.75,"v":-0.005},{"x":8.227,"y":-8.75,"v":-0.005},
{"x":-6.495,"y":-9.25,"v":-0.005},{"x":-5.629,"y":-9.25,"v":-0.005},{"x":-4.763,"y":-9.25,"v":-0.005},{"x":-3.897,"y":-9.25,"v":-0.005},{"x":-3.031,"y":-9.25,"v":-0.005},{"x":-2.165,"y":-9.25,"v":-0.005},{"x":-1.299,"y":-9.25,"v":-0.005},{"x":-0.433,"y":-9.25,"v":-0.005},{"x":0.433,"y":-9.25,"v":-0.005},{"x":1.299,"y":-9.25,"v":-0.005},{"x":2.165,"y":-9.25,"v":-0.005},{"x":3.031,"y":-9.25,"v":-0.005},{"x":3.897,"y":-9.25,"v":-0.005},{"x":4.763,"y":-9.25,"v":-0.005},{"x":5.629,"y":-9.25,"v":-0.005},{"x":6.495,"y":-9.25,"v":-0.005},{"x":7.361,"y":-9.25,"v":-0.005},{"x":8.227,"y":-9.25,"v":-0.005},
{"x":-6.062,"y":-9.5,"v":-0.005},{"x":-4.33,"y":-9.5,"v":-0.005},{"x":-2.598,"y":-9.5,"v":-0.005},{"x":-0.866,"y":-9.5,"v":-0.005},{"x":0.866,"y":-9.5,"v":-0.005},{"x":2.598,"y":-9.5,"v":-0.005},{"x":4.33,"y":-9.5,"v":-0.005},{"x":6.062,"y":-9.5,"v":-0.005},{"x":7.794,"y":-9.5,"v":-0.005},
{"x":-5.196,"y":-10,"v":-0.005},{"x":-3.464,"y":-10,"v":-0.005},{"x":-1.732,"y":-10,"v":-0.005},{"x":0,"y":-10,"v":-0.005},{"x":1.732,"y":-10,"v":-0.005},{"x":3.464,"y":-10,"v":-0.005},{"x":5.196,"y":-10,"v":-0.005},{"x":6.928,"y":-10,"v":-0.005},{"x":8.66,"y":-10,"v":-0.005},
{"x":-6.495,"y":-10.25,"v":-0.005},{"x":-5.629,"y":-10.25,"v":-0.005},{"x":-4.763,"y":-10.25,"v":-0.005},{"x":-3.897,"y":-10.25,"v":-0.005},{"x":-3.031,"y":-10.25,"v":-0.005},{"x":-2.165,"y":-10.25,"v":-0.005},{"x":-1.299,"y":-10.25,"v":-0.005},{"x":-0.433,"y":-10.25,"v":-0.005},{"x":0.433,"y":-10.25,"v":-0.005},{"x":1.299,"y":-10.25,"v":-0.005},{"x":2.165,"y":-10.25,"v":-0.005},{"x":3.031,"y":-10.25,"v":-0.005},{"x":3.897,"y":-10.25,"v":-0.005},{"x":4.763,"y":-10.25,"v":-0.005},{"x":5.629,"y":-10.25,"v":-0.005},{"x":6.495,"y":-10.25,"v":-0.005},{"x":7.361,"y":-10.25,"v":-0.005},{"x":8.227,"y":-10.25,"v":-0.005},
{"x":-6.495,"y":-10.75,"v":-0.005},{"x":-5.629,"y":-10.75,"v":-0.005},{"x":-4.763,"y":-10.75,"v":-0.005},{"x":-3.897,"y":-10.75,"v":-0.005},{"x":-3.031,"y":-10.75,"v":-0.005},{"x":-2.165,"y":-10.75,"v":-0.005},{"x":-1.299,"y":-10.75,"v":-0.005},{"x":-0.433,"y":-10.75,"v":-0.005},{"x":0.433,"y":-10.75,"v":-0.005},{"x":1.299,"y":-10.75,"v":-0.005},{"x":2.165,"y":-10.75,"v":-0.005},{"x":3.031,"y":-10.75,"v":-0.005},{"x":3.897,"y":-10.75,"v":-0.005},{"x":4.763,"y":-10.75,"v":-0.005},{"x":5.629,"y":-10.75,"v":-0.005},{"x":6.495,"y":-10.75,"v":-0.005},{"x":7.361,"y":-10.75,"v":-0.005},{"x":8.227,"y":-10.75,"v":-0.005},
{"x":-5.196,"y":-11,"v":-0.005},{"x":-3.464,"y":-11,"v":-0.005},{"x":-1.732,"y":-11,"v":-0.005},{"x":0,"y":-11,"v":-0.005},{"x":1.732,"y":-11,"v":-0.005},{"x":3.464,"y":-11,"v":-0.005},{"x":5.196,"y":-11,"v":-0.005},{"x":6.928,"y":-11,"v":-0.005},{"x":8.66,"y":-11,"v":-0.005},
{"x":-6.062,"y":-11.5,"v":-0.005},{"x":-4.33,"y":-11.5,"v":-0.005},{"x":-2.598,"y":-11.5,"v":-0.005},{"x":-0.866,"y":-11.5,"v":-0.005},{"x":0.866,"y":-11.5,"v":-0.005},{"x":2.598,"y":-11.5,"v":-0.005},{"x":4.33,"y":-11.5,"v":-0.005},{"x":6.062,"y":-11.5,"v":-0.005},{"x":7.794,"y":-11.5,"v":-0.005},
{"x":-6.495,"y":-11.75,"v":-0.005},{"x":-5.629,"y":-11.75,"v":-0.005},{"x":-4.763,"y":-11.75,"v":-0.005},{"x":-3.897,"y":-11.75,"v":-0.005},{"x":-3.031,"y":-11.75,"v":-0.005},{"x":-2.165,"y":-11.75,"v":-0.005},{"x":-1.299,"y":-11.75,"v":-0.005},{"x":-0.433,"y":-11.75,"v":-0.005},{"x":0.433,"y":-11.75,"v":-0.005},{"x":1.299,"y":-11.75,"v":-0.005},{"x":2.165,"y":-11.75,"v":-0.005},{"x":3.031,"y":-11.75,"v":-0.005},{"x":3.897,"y":-11.75,"v":-0.005},{"x":4.763,"y":-11.75,"v":-0.005},{"x":5.629,"y":-11.75,"v":-0.005},{"x":6.495,"y":-11.75,"v":-0.005},{"x":7.361,"y":-11.75,"v":-0.005},{"x":8.227,"y":-11.75,"v":-0.005},
{"x":-6.062,"y":-12.5,"v":-0.005},{"x":-4.33,"y":-12.5,"v":-0.005},{"x":-2.598,"y":-12.5,"v":-0.005},{"x":-0.866,"y":-12.5,"v":-0.005},{"x":0.866,"y":-12.5,"v":-0.005},{"x":2.598,"y":-12.5,"v":-0.005},{"x":4.33,"y":-12.5,"v":-0.005},{"x":6.062,"y":-12.5,"v":-0.005},{"x":7.794,"y":-12.5,"v":-0.005}
]
},
"layer": [
 {"data": {"name": "b"}, "mark": {"type": "point", "filled": true, "opacity": 1, "strokeWidth": 0},
  "encoding": {
   "x": {"field": "x", "type": "quantitative", "scale": {"domain": [-7.673, 9.934], "nice": false, "zero": false},
    "axis": {"values": [-7.5,-5,-2.5,0,2.5,5,7.5], "offset": 3, "labelPadding": 2, "labelExpr": "datum.value % 5 == 0 ? (datum.value < 0 ? '-' + abs(datum.value) : '' + datum.value) : ''"}},
   "y": {"field": "y", "type": "quantitative", "scale": {"domain": [-13.853, 10.128], "nice": false, "zero": false},
    "axis": {"values": [-12.5,-10,-7.5,-5,-2.5,0,2.5,5,7.5], "offset": 0, "labelPadding": 7, "labelExpr": "datum.value % 5 == 0 ? (datum.value < 0 ? '-' + abs(datum.value) : '' + datum.value) : ''"}},
   "color": {"field": "v", "type": "quantitative",
    "scale": {"domain": [-0.0732, -0.05, -0.03, -0.015, -0.005, 0, 0.013, 0.0261], "range": ["#2c66a6", "#3f8fc4", "#94c4df", "#cbe0ee", "#e0e9f1", "#f2f2f2", "#f7d9c6", "#f0ab89"]},
    "legend": {"orient": "none", "legendX": 798, "legendY": 144, "direction": "vertical", "gradientLength": 852, "gradientThickness": 61, "gradientStrokeColor": "#000", "gradientStrokeWidth": 3.5, "title": null, "values": [-0.073, 0, 0.026], "labelExpr": "datum.value == 0 ? '━ 0.000' : datum.value > 0 ? '━ [0.026]' : '━ [−0.073]'", "labelFont": "Liberation Serif", "labelFontSize": 36, "labelColor": "#000", "labelOffset": 1, "labelBaseline": "middle", "labelOverlap": false}},
   "size": {"field": "v", "type": "quantitative", "scale": {"domain": [-0.073, -0.035, -0.02, -0.005, 0, 0.012, 0.026], "range": [290, 150, 115, 38, 8, 80, 120]}, "legend": null}
  }},
 {"data": {"name": "s"}, "mark": {"type": "point", "filled": true, "opacity": 1, "strokeWidth": 0, "color": "#2b8a2b", "size": 16},
  "encoding": {"x": {"field": "x", "type": "quantitative"}, "y": {"field": "y", "type": "quantitative"}}},
 {"data": {"name": "r"}, "mark": {"type": "point", "filled": true, "opacity": 1, "strokeWidth": 0, "size": 575},
  "encoding": {"x": {"field": "x", "type": "quantitative"}, "y": {"field": "y", "type": "quantitative"},
   "fill": {"field": "v", "type": "nominal", "scale": {"domain": [0.49], "range": ["#ed1c24"]},
   "legend": {"orient": "none", "legendX": 796, "legendY": 3, "title": null, "symbolType": "M-1,-0.67L1,-0.67L1,0.67L-1,0.67Z", "symbolSize": 4096, "symbolStrokeColor": "#000", "symbolStrokeWidth": 3.5, "symbolOpacity": 1, "labelExpr": "'━ 0.49'", "labelFont": "Liberation Serif", "labelFontSize": 36, "labelColor": "#000", "labelOffset": 1}}}},
 {"data": {"values": [{"t": "Uniform-flux"}]},
  "mark": {"type": "text", "align": "right", "baseline": "alphabetic", "font": "Noto Sans", "fontSize": 47, "fill": "#000"},
  "encoding": {"x": {"datum": 9.62, "type": "quantitative"}, "y": {"datum": 9.04, "type": "quantitative"}, "text": {"field": "t", "type": "nominal"}}}
]
}
